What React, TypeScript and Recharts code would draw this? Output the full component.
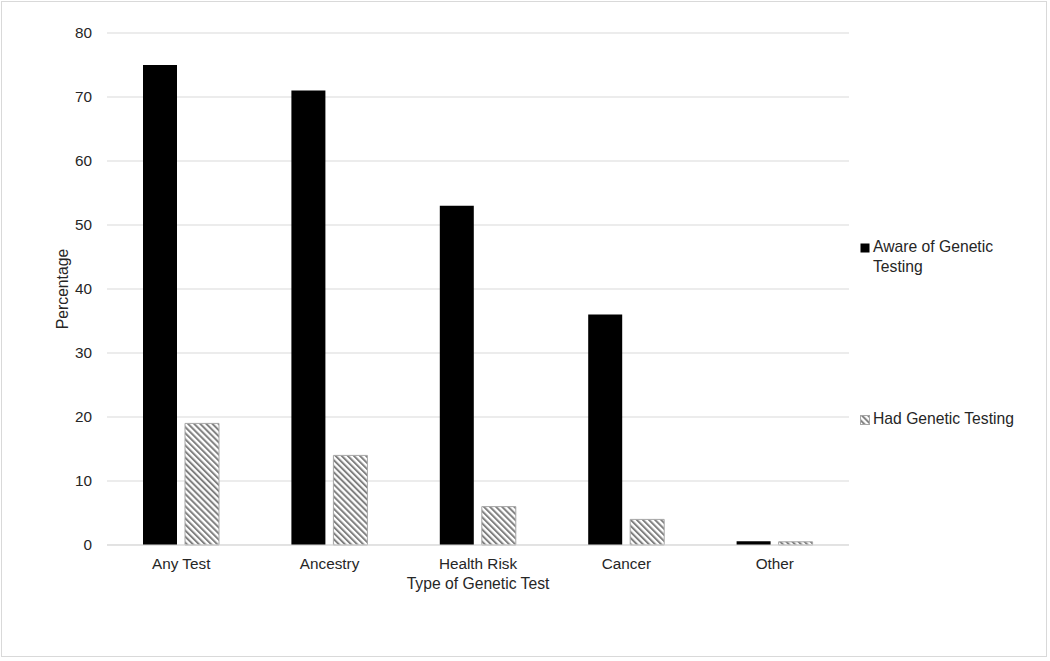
import React from "react";
import { BarChart, Bar, XAxis, YAxis, CartesianGrid } from "recharts";

const categories = ["Any Test", "Ancestry", "Health Risk", "Cancer", "Other"];
const awareValues = [75, 71, 53, 36, 0.6];
const hadValues = [19, 14, 6, 4, 0.5];
const yTicks = [0, 10, 20, 30, 40, 50, 60, 70, 80];
const seriesNames = ["Aware of Genetic Testing", "Had Genetic Testing"];

const data = categories.map((c, i) => ({ name: c, aware: awareValues[i], had: hadValues[i] }));

const FONT = "'Liberation Sans', Arial, sans-serif";
const TEXT = "#262626";

const LegendBox = () => (
  <div style={{ position: "absolute", left: 860, top: 237, fontFamily: FONT, fontSize: 15.7, color: TEXT, width: 180, height: 200 }}>
    <div style={{ position: "absolute", left: 0, top: 0, display: "flex", alignItems: "flex-start" }}>
      <svg width={10} height={10} style={{ marginTop: 6, marginRight: 3, flex: "none" }}>
        <rect x={0.5} y={0.5} width={9} height={9} fill="#000" />
      </svg>
      <div style={{ lineHeight: "20px", width: 150 }}>{seriesNames[0]}</div>
    </div>
    <div style={{ position: "absolute", left: 0, top: 172, display: "flex", alignItems: "flex-start" }}>
      <svg width={10} height={10} style={{ marginTop: 6, marginRight: 3, flex: "none" }}>
        <rect x={0.5} y={0.5} width={9} height={9} fill="url(#hatch)" stroke="#a6a6a6" strokeWidth={1} />
      </svg>
      <div style={{ lineHeight: "20px", whiteSpace: "nowrap" }}>{seriesNames[1]}</div>
    </div>
  </div>
);

export default function App() {
  return (
    <div style={{ position: "relative", width: 1050, height: 661, background: "#fff" }}>
      <style>{`body{margin:0;}`}</style>
      <div style={{ position: "absolute", left: 1, top: 1, width: 1044, height: 654, border: "1px solid #d9d9d9" }} />
      <div style={{ position: "absolute", left: 0, top: 0 }}>
        <BarChart
          width={1050}
          height={661}
          data={data}
          margin={{ top: 33, right: 201, bottom: 66, left: 44 }}
          barSize={34}
          barGap={8}
        >
          <defs>
            <pattern id="hatch" patternUnits="userSpaceOnUse" width={4.3} height={4.3} patternTransform="rotate(-45)">
              <rect x={0} y={0} width={4.3} height={4.3} fill="#fff" />
              <rect x={0} y={0} width={2} height={4.3} fill="#808080" />
            </pattern>
          </defs>
          <CartesianGrid vertical={false} stroke="#d9d9d9" strokeWidth={1} />
          <XAxis
            dataKey="name"
            tickLine={false}
            axisLine={{ stroke: "#d9d9d9" }}
            tickMargin={7}
            tick={{ fill: TEXT, fontSize: 15.3, fontFamily: FONT }}
            height={50}
            label={{ value: "Type of Genetic Test", position: "insideBottom", offset: 0, fill: TEXT, fontSize: 15.7, fontFamily: FONT, dy: -6 }}
          />
          <YAxis
            domain={[0, 80]}
            ticks={yTicks}
            interval={0}
            axisLine={false}
            tickLine={false}
            tickMargin={9}
            width={63}
            tick={{ fill: TEXT, fontSize: 15.3, fontFamily: FONT }}
            label={{ value: "Percentage", angle: -90, position: "insideLeft", offset: 18, fill: TEXT, fontSize: 15.7, fontFamily: FONT, style: { textAnchor: "middle" } }}
          />
          <Bar dataKey="aware" name={seriesNames[0]} fill="#000" isAnimationActive={false} />
          <Bar dataKey="had" name={seriesNames[1]} fill="url(#hatch)" stroke="#a6a6a6" strokeWidth={1} isAnimationActive={false} />
        </BarChart>
      </div>
      <LegendBox />
    </div>
  );
}
